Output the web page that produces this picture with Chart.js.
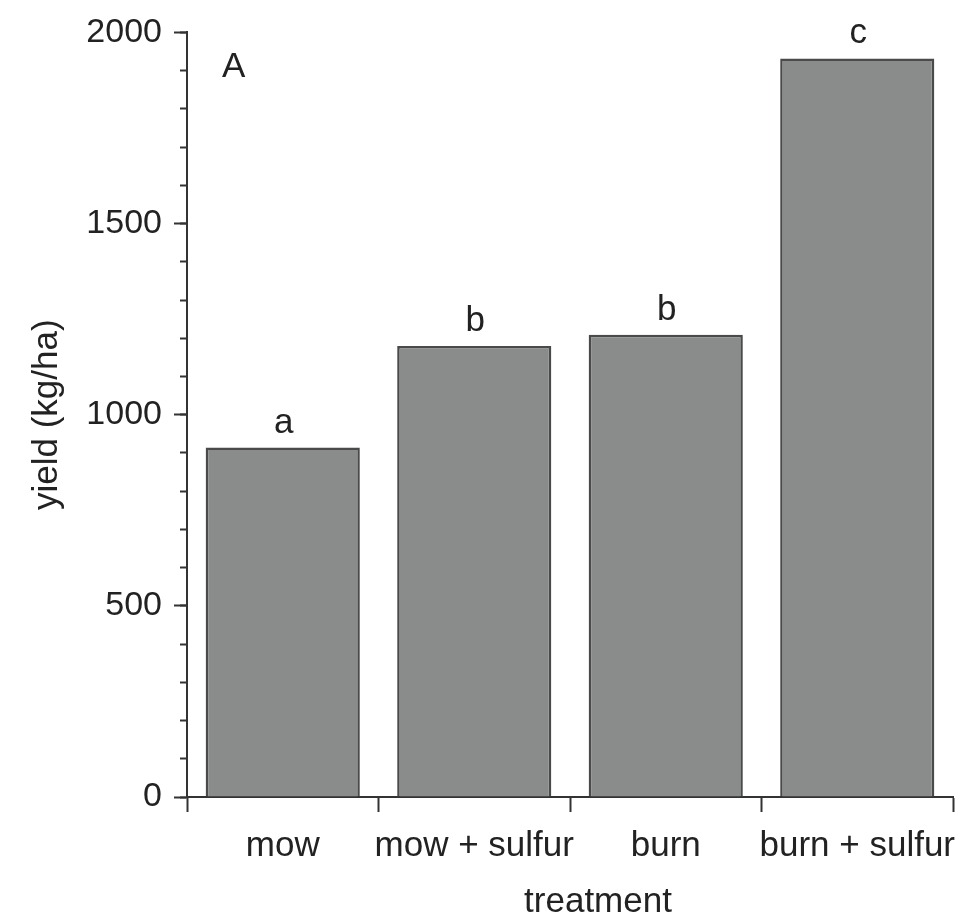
<!DOCTYPE html>
<html>
<head>
<meta charset="utf-8">
<title>yield by treatment</title>
<script src="https://cdn.jsdelivr.net/npm/chart.js@4.4.0/dist/chart.umd.min.js"></script>
<style>
    html, body { margin: 0; padding: 0; background: #fff; }
    #wrap { width: 966px; height: 916px; }
</style>
</head>
<body>
<div id="wrap"><canvas id="chart" width="966" height="916"></canvas></div>
<script>
// Datos del gráfico
const treatments = ['mow', 'mow + sulfur', 'burn', 'burn + sulfur'];
const yieldValues = [914, 1180, 1209, 1932];
const groupLetters = ['a', 'b', 'b', 'c'];
const panelLabel = 'A';
const yTitle = 'yield (kg/ha)';
const xTitle = 'treatment';

const FONT = '"Liberation Sans", Arial, sans-serif';
const TEXT = '#222';
const AXIS = '#333';

Chart.defaults.font.family = FONT;
Chart.defaults.color = TEXT;

// Letras de significancia, etiqueta del panel y título del eje x
const annotations = {
    id: 'annotations',
    afterDraw(chart) {
        const ctx = chart.ctx;
        const meta = chart.getDatasetMeta(0);
        const area = chart.chartArea;
        const xs = chart.scales.x;
        ctx.save();
        ctx.font = '35px ' + FONT;
        ctx.fillStyle = TEXT;
        ctx.textBaseline = 'alphabetic';
        ctx.textAlign = 'center';
        meta.data.forEach((bar, i) => {
            ctx.fillText(groupLetters[i], bar.x + 1, bar.y - 15);
        });
        ctx.fillText(xTitle, (xs.left + xs.right) / 2 + 28, xs.bottom - 4);
        ctx.textAlign = 'left';
        ctx.fillText(panelLabel, area.left + 35, area.top + 45);
        ctx.restore();
    }
};

new Chart(document.getElementById('chart'), {
    type: 'bar',
    data: {
        labels: treatments,
        datasets: [{
            data: yieldValues,
            backgroundColor: '#8a8c8c',
            borderColor: '#4a4a4a',
            borderWidth: 2.5,
            barPercentage: 0.805,
            categoryPercentage: 1
        }]
    },
    options: {
        responsive: false,
        animation: false,
        layout: { padding: { top: 30, right: 13, bottom: 0, left: 0 } },
        plugins: {
            legend: { display: false },
            tooltip: { enabled: false }
        },
        scales: {
            x: {
                grid: { drawOnChartArea: false, offset: true, tickLength: 15, tickWidth: 2, color: AXIS },
                border: { color: AXIS, width: 2 },
                ticks: { font: { size: 35 }, color: TEXT, padding: 13, maxRotation: 0, autoSkip: false },
                afterFit(s) { s.height = 119; s.paddingLeft = 0; s.paddingRight = 0; }
            },
            y: {
                position: 'left',
                weight: 1,
                min: 0,
                max: 2000,
                ticks: {
                    stepSize: 500,
                    font: { size: 34 },
                    color: TEXT,
                    padding: 12,
                    callback: v => String(v)
                },
                grid: { drawOnChartArea: false, tickLength: 13, tickWidth: 2, color: AXIS },
                border: { color: AXIS, width: 2 },
                title: {
                    display: true,
                    text: yTitle,
                    font: { size: 35 },
                    color: TEXT,
                    padding: { top: 26, bottom: 0 }
                },
                afterFit(s) { s.width = 187; }
            },
            // marcas menores cada 100
            yMinor: {
                type: 'linear',
                position: 'left',
                weight: 0,
                min: 0,
                max: 2000,
                ticks: { stepSize: 100, display: false },
                grid: { drawOnChartArea: false, tickLength: 7, tickWidth: 2, color: AXIS },
                border: { display: false },
                afterFit(s) { s.width = 0; }
            }
        }
    },
    plugins: [annotations]
});
</script>
</body>
</html>
